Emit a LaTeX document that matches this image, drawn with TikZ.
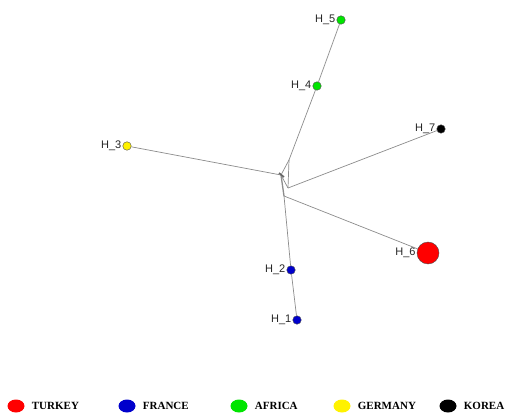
\documentclass[tikz,border=0pt]{standalone}
\usepackage{fontspec}
\setmainfont{Liberation Serif}
\newfontfamily\lblfont{Liberation Sans}
\usetikzlibrary{positioning,shapes.geometric}
\tikzset{
  hap/.style={circle, draw=black!70, line width=0.4pt, inner sep=0pt, minimum size=8.5pt},
  lbl/.style={font=\lblfont\fontsize{11}{12}\selectfont, inner sep=1pt, text=black!85},
  link/.style={draw=black!45, line width=0.7pt},
  legdot/.style={ellipse, inner sep=0pt, minimum width=17pt, minimum height=13pt},
  legtxt/.style={font=\bfseries\fontsize{11}{12}\selectfont, inner sep=0pt}
}
\begin{document}
\begin{tikzpicture}[x=1pt,y=-1pt]
  \useasboundingbox[fill=white] (0,0) rectangle (527,414);
  % haplotypes
  \node[hap, fill=blue!80!black, label={[lbl]left:H\_1}] (H1) at (297,320) {};
  \node[hap, fill=blue!80!black, label={[lbl]left:H\_2}] (H2) at (291,270) {};
  \node[hap, fill=yellow, label={[lbl]left:H\_3}] (H3) at (127,146) {};
  \node[hap, fill=green!90!black, label={[lbl]left:H\_4}] (H4) at (317,86) {};
  \node[hap, fill=green!90!black, label={[lbl]left:H\_5}] (H5) at (341,20) {};
  \node[hap, fill=red, minimum size=22pt, label={[lbl]left:H\_6}] (H6) at (428,253) {};
  \node[hap, fill=black, label={[lbl]left:H\_7}] (H7) at (441,129) {};
  % median vectors
  \coordinate (m1) at (281,175); \coordinate (m2) at (289,160);
  \coordinate (m3) at (288,188); \coordinate (m4) at (284,196);

  \draw[link] (H3) to (m1); \draw[link] (m1) to (m2); \draw[link] (H5) to (H4);
  \draw[link] (H4) to (m2); \draw[link] (m2) to (m3); \draw[link] (m3) to (H7);
  \draw[link] (m1) to (m3); \draw[link, line width=1.3pt] (m1) to (m4);
  \draw[link] (m4) to (H6); \draw[link] (m4) to (H2); \draw[link] (H2) to (H1);
  \draw[black!60, line width=1.6pt] (279,173) -- (284,177);

  % legend
  \node[legdot, fill=red] (turkey) at (16,406) {}; \node[legtxt, right=7pt of turkey] (lturkey) {TURKEY};
  \node[legdot, fill=blue!80!black] (france) at (127,406) {}; \node[legtxt, right=7pt of france] (lfrance) {FRANCE};
  \node[legdot, fill=green!90!black] (africa) at (239,406) {}; \node[legtxt, right=7pt of africa] (lafrica) {AFRICA};
  \node[legdot, fill=yellow] (germany) at (342,406) {}; \node[legtxt, right=7pt of germany] (lgermany) {GERMANY};
  \node[legdot, fill=black] (korea) at (448,406) {}; \node[legtxt, right=7pt of korea] (lkorea) {KOREA};
\end{tikzpicture}
\end{document}
